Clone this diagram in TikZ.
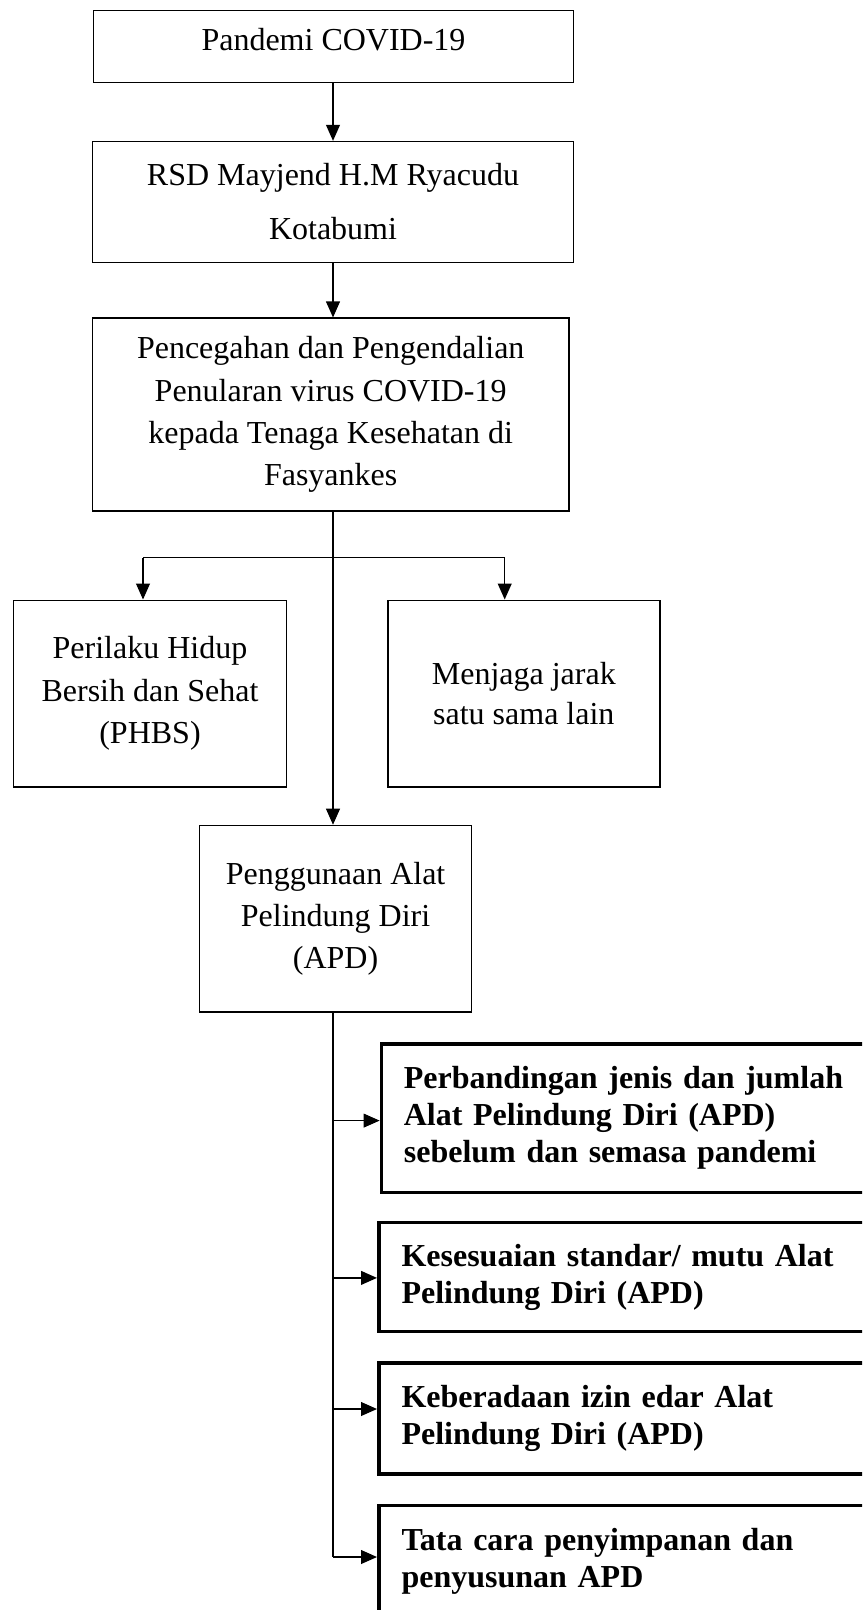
\documentclass[tikz,border=0pt]{standalone}
\usepackage{fontspec}
\setmainfont{Liberation Serif}
\usetikzlibrary{arrows.meta}
\begin{document}
\begin{tikzpicture}[x=0.375pt,y=-0.375pt,
  box/.style={draw, line width=0.55pt, align=center, inner sep=0pt,
    font=\fontsize{12pt}{15.9pt}\selectfont},
  boldbox/.style={draw, line width=1.4pt, anchor=north west, align=left,
    inner ysep=0pt, font=\fontsize{12pt}{13.9pt}\selectfont\bfseries},
  arr/.style={-{Triangle[length=6pt,width=5.2pt]}, line width=0.5pt},
  conn/.style={line width=0.5pt}]
\useasboundingbox (0,0) rectangle (862,1610);
\clip (0,0) rectangle (862,1610);
\fill[white] (0,0) rectangle (862,1610);

% top chain
\node[box, minimum width=180pt, minimum height=27pt, text depth=5.5pt] (b1) at (333.5,46.4) {Pandemi COVID-19};
\node[box, minimum width=180.4pt, minimum height=45.3pt,
  font=\fontsize{12pt}{20.25pt}\selectfont] (b2) at (333,202) {RSD Mayjend H.M Ryacudu\\Kotabumi};
\node[box, minimum width=178.7pt, minimum height=72.3pt] (b3) at (330.7,414.6)
  {Pencegahan dan Pengendalian\\Penularan virus COVID-19\\kepada Tenaga Kesehatan di\\Fasyankes};

% middle
\node[box, minimum width=102.4pt, minimum height=70pt] (phbs) at (150,693.6)
  {Perilaku Hidup\\Bersih dan Sehat\\(PHBS)};
\node[box, minimum width=102pt, minimum height=70pt,
  font=\fontsize{12pt}{15pt}\selectfont] (jaga) at (523.8,693.6)
  {Menjaga jarak\\satu sama lain};
\node[box, minimum width=102.1pt, minimum height=70pt] (apd) at (335.6,918.8)
  {Penggunaan Alat\\Pelindung Diri\\(APD)};

% bold boxes (right side runs off the page)
\node[boldbox, inner xsep=8.4pt, text width=170.85pt, minimum height=55.7pt] (ba) at (379.6,1042)
  {Perbandingan jenis dan jumlah\\Alat Pelindung Diri (APD)\\sebelum dan semasa pandemi};
\node[boldbox, inner xsep=8.5pt, text width=171.6pt, minimum height=40.95pt] (bb) at (377,1220.5)
  {Kesesuaian standar/ mutu Alat\\Pelindung Diri (APD)};
\node[boldbox, inner xsep=8.5pt, text width=171.6pt, minimum height=41.6pt] (bc) at (377,1361)
  {Keberadaan izin edar Alat\\Pelindung Diri (APD)};
\node[boldbox, inner xsep=8.5pt, text width=171.6pt, minimum height=42pt] (bd) at (377,1503.5)
  {Tata cara penyimpanan dan\\penyusunan APD};

% connectors
\draw[arr] (b1.south -| b2) -- (b2.north);
\draw[arr] (b2.south) -- (b3.north -| b2);
\draw[arr] (b3.south -| b2) -- (apd.north -| b2);

\coordinate (jl) at (143,557.5);
\coordinate (jr) at (504.7,557.5);
\draw[conn] (jl) -- (jr);
\draw[arr] (jl) -- (jl |- phbs.north);
\draw[arr] (jr) -- (jr |- jaga.north);

\coordinate (t1) at (333,1120.6);
\coordinate (t2) at (333,1277.9);
\coordinate (t3) at (333,1409);
\coordinate (t4) at (333,1557);
\draw[conn] (apd.south -| b2) -- (t4);
\draw[arr] (t1) -- (t1 -| ba.west);
\draw[arr] (t2) -- (t2 -| bb.west);
\draw[arr] (t3) -- (t3 -| bc.west);
\draw[arr] (t4) -- (t4 -| bd.west);
\end{tikzpicture}
\end{document}
